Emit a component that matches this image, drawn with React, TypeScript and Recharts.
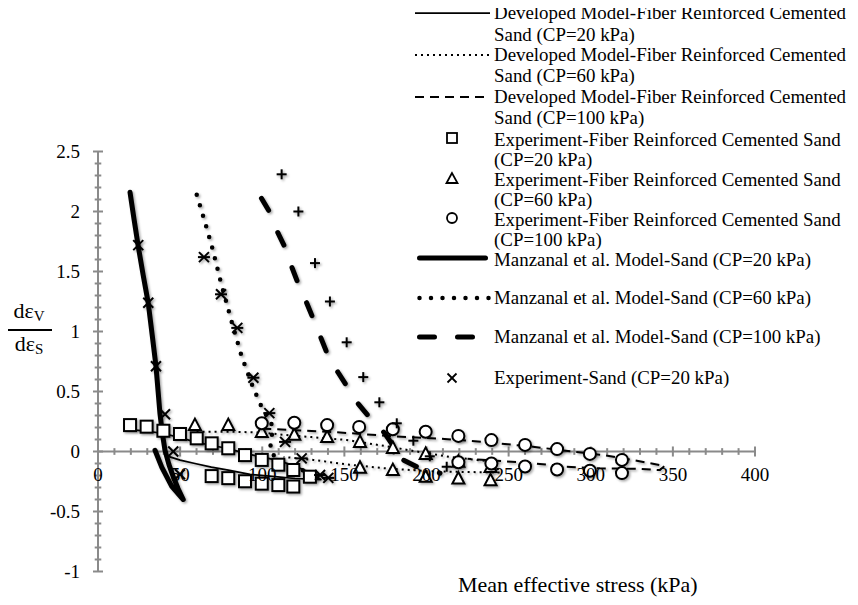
import React from 'react';
import { ComposedChart, Line, Scatter, XAxis, YAxis, ReferenceLine } from 'recharts';

type P = [number, number];

// ---------- data ----------
const devModel20: P[] = [
  [17.5, 0.185], [29.6, 0.17], [39.8, 0.15], [49.9, 0.115], [59, 0.08], [69.2, 0.05], [79.3, 0.025],
  [89.5, -0.015], [99.7, -0.045], [107.8, -0.07], [118, -0.11], [128, -0.17], [136, -0.235],
  [120, -0.225], [107.8, -0.21], [92.5, -0.19], [79.3, -0.155], [69, -0.13], [59, -0.1], [50, -0.072], [42.8, -0.04],
];
const devModel60: P[] = [
  [60, 0.165], [80, 0.165], [100, 0.158], [112.6, 0.14], [130, 0.12], [151.4, 0.096], [175, 0.045], [194, 0.0],
  [214, -0.045], [240, -0.085], [245, -0.175], [220, -0.17], [202, -0.165], [175, -0.14], [153, -0.11], [131, -0.07], [113, -0.045],
];
const devModel100: P[] = [
  [100, 0.19], [120, 0.178], [140, 0.165], [166.6, 0.14], [188, 0.12], [211, 0.105], [234.4, 0.08], [264.8, 0.04],
  [288.4, 0.0], [307.7, -0.03], [325, -0.07], [345, -0.12], [342, -0.155], [330, -0.145], [305.6, -0.14],
  [285, -0.127], [263, -0.095], [240, -0.075], [225, -0.06],
];
const expFRCS20: P[] = [
  [19.5, 0.22], [29.6, 0.207], [39.8, 0.173], [49.9, 0.146], [60.1, 0.11], [69.2, 0.068], [79.3, 0.027],
  [89.5, -0.03], [99.7, -0.07], [109.8, -0.11], [118.9, -0.154], [129, -0.21],
  [69.2, -0.205], [79.3, -0.222], [89.5, -0.248], [99.7, -0.268], [109.8, -0.28], [118.9, -0.292],
];
const expFRCS60: P[] = [
  [59, 0.22], [79.3, 0.22], [99.7, 0.162], [119.5, 0.14], [139.5, 0.12], [159.5, 0.08], [179.5, 0.03],
  [199.5, -0.02], [219.4, -0.085], [239, -0.13],
  [159.5, -0.135], [179.5, -0.155], [199.5, -0.21], [219.4, -0.225], [239, -0.24],
];
const expFRCS100: P[] = [
  [99.7, 0.235], [119.5, 0.24], [139.5, 0.22], [159, 0.205], [179.5, 0.185], [199.5, 0.165], [219.4, 0.13],
  [239.5, 0.095], [260, 0.055], [279.5, 0.02], [299.5, -0.02], [319, -0.07],
  [219.4, -0.09], [239.5, -0.1], [260, -0.125], [279.5, -0.15], [299.5, -0.16], [319, -0.18],
];
const manzanal20: P[] = [
  [19.5, 2.16], [22, 1.93], [24.5, 1.71], [27.5, 1.47], [30.6, 1.235], [33, 0.97], [35.3, 0.71], [36.6, 0.5],
  [37.7, 0.32], [39.2, 0.15], [40.8, 0.01], [43.2, -0.11], [45.8, -0.21], [48.8, -0.31], [51.9, -0.4],
  [44.9, -0.29], [38.8, -0.13], [34.7, 0.01],
];
const manzanal60: P[] = [
  [60.1, 2.14], [66.2, 1.86], [69.8, 1.685], [74.7, 1.415], [81.8, 1.06], [87.5, 0.79], [94.6, 0.527],
  [100, 0.36], [106.5, 0.207], [105.5, 0.1], [104.7, 0.01], [108, -0.05], [114, -0.09], [120, -0.13],
  [127, -0.17], [135, -0.22],
];
const manzanal100: P[] = [
  [99.5, 2.11], [104.7, 1.99], [109.6, 1.82], [113.9, 1.7], [117.9, 1.54], [121.8, 1.4], [127, 1.24],
  [130.9, 1.11], [136.2, 0.93], [140, 0.8], [146.1, 0.66], [152.2, 0.53], [158.3, 0.4], [165.6, 0.28],
  [174.7, 0.15], [179.6, 0.05], [178.8, -0.01], [185.7, -0.07], [196, -0.14], [208.2, -0.18],
];
const expSand20: P[] = [
  [24.5, 1.72], [30.6, 1.24], [35.3, 0.71], [40.8, 0.31], [45.8, 0.0], [49.9, -0.19],
];
const expSand60: P[] = [
  [64.5, 1.62], [74.9, 1.31], [84.8, 1.03], [94.6, 0.615], [104.3, 0.32], [113.9, 0.08], [124, -0.057],
  [135.2, -0.196], [140.2, -0.22],
];
const expSand100: P[] = [
  [111.8, 2.31], [122, 2.0], [132.1, 1.57], [141.2, 1.25], [151.4, 0.91], [161.5, 0.62], [171.3, 0.41],
  [181.9, 0.235], [192, 0.09], [202, -0.04], [212.3, -0.127],
];

const xTickLabels = [0, 50, 100, 150, 200, 250, 300, 350, 400];
const yTickLabels = [-1, -0.5, 0, 0.5, 1, 1.5, 2, 2.5];

const legendNames = [
  'Developed Model-Fiber Reinforced Cemented\nSand (CP=20 kPa)',
  'Developed Model-Fiber Reinforced Cemented\nSand (CP=60 kPa)',
  'Developed Model-Fiber Reinforced Cemented\nSand (CP=100 kPa)',
  'Experiment-Fiber Reinforced Cemented Sand\n(CP=20 kPa)',
  'Experiment-Fiber Reinforced Cemented Sand\n(CP=60 kPa)',
  'Experiment-Fiber Reinforced Cemented Sand\n(CP=100 kPa)',
  'Manzanal et al. Model-Sand (CP=20 kPa)',
  'Manzanal et al. Model-Sand (CP=60 kPa)',
  'Manzanal et al. Model-Sand (CP=100 kPa)',
  'Experiment-Sand (CP=20 kPa)',
];
const xAxisTitle = 'Mean effective stress (kPa)';

// ---------- styling ----------
const FONT = '"Liberation Serif", "Times New Roman", serif';
const GRAY = '#8a8a8a';
const SH = 'url(#shadow)';

const pts = (a: P[]) => a.map(([x, y]) => ({ x, y }));

const SquareShape = (p: any) => (
  <rect x={p.cx - 6} y={p.cy - 6} width={12} height={12} fill="#fff" stroke="#000" strokeWidth={2} filter={SH} />
);
const TriangleShape = (p: any) => (
  <polygon points={`${p.cx},${p.cy - 6.5} ${p.cx - 6},${p.cy + 5} ${p.cx + 6},${p.cy + 5}`} fill="#fff" stroke="#000" strokeWidth={2} filter={SH} />
);
const CircleShape = (p: any) => (
  <circle cx={p.cx} cy={p.cy} r={6} fill="#fff" stroke="#000" strokeWidth={2} filter={SH} />
);
const XShape = (p: any) => (
  <g stroke="#000" strokeWidth={2} filter={SH}>
    <line x1={p.cx - 5} y1={p.cy - 5} x2={p.cx + 5} y2={p.cy + 5} />
    <line x1={p.cx - 5} y1={p.cy + 5} x2={p.cx + 5} y2={p.cy - 5} />
  </g>
);
const PlusShape = (p: any) => (
  <g stroke="#000" strokeWidth={2} filter={SH}>
    <line x1={p.cx - 5} y1={p.cy} x2={p.cx + 5} y2={p.cy} />
    <line x1={p.cx} y1={p.cy - 5} x2={p.cx} y2={p.cy + 5} />
  </g>
);
const StarShape = (p: any) => (
  <g stroke="#000" strokeWidth={2} filter={SH}>
    <line x1={p.cx - 5} y1={p.cy - 5} x2={p.cx + 5} y2={p.cy + 5} />
    <line x1={p.cx - 5} y1={p.cy + 5} x2={p.cx + 5} y2={p.cy - 5} />
    <line x1={p.cx - 6} y1={p.cy} x2={p.cx + 6} y2={p.cy} />
  </g>
);

// axis tick sets (axis furniture, not data)
const xMinor: number[] = [];
for (let v = 10; v < 400; v += 10) if (v % 50 !== 0) xMinor.push(v);
const yMinor: number[] = [];
for (let i = -10; i <= 25; i++) if (i % 5 !== 0) yMinor.push(i / 10);

const X_MAJ = 0.042, X_MIN = 0.028; // half tick length in y units
const Y_MAJ = 3.05, Y_MIN = 2.0; // half tick length in x units

// legend layout (page-relative, chart wrapper offset 8px)
const legendLineCenters = [[13, 35], [55, 76], [97, 118], [140, 160], [180, 200], [220, 239.5], [260], [298], [337], [378]];

export default function App() {
  return (
    <div style={{ position: 'relative', width: 850, height: 597, fontFamily: FONT }}>
      <ComposedChart width={850} height={597} margin={{ top: 143.5, right: 103, bottom: 33.5, left: 30 }}>
        <defs>
          <filter id="shadow" x="-50%" y="-50%" width="200%" height="200%">
            <feDropShadow dx="1.5" dy="1.5" stdDeviation="1.2" floodColor="#000" floodOpacity="0.35" />
          </filter>
        </defs>
        <XAxis type="number" dataKey="x" domain={[0, 400]} hide allowDataOverflow />
        <YAxis
          type="number"
          dataKey="y"
          domain={[-1, 2.5]}
          ticks={yTickLabels}
          interval={0}
          axisLine={false}
          tickLine={false}
          width={60}
          tickSize={8}
          tickMargin={10}
          tick={{ fill: '#000', fontSize: 19, fontFamily: FONT }}
          allowDataOverflow
        />
        {/* axis lines */}
        <ReferenceLine segment={[{ x: 0, y: -1 }, { x: 0, y: 2.5 }]} stroke={GRAY} strokeWidth={2} ifOverflow="visible" />
        <ReferenceLine segment={[{ x: 0, y: 0 }, { x: 400, y: 0 }]} stroke={GRAY} strokeWidth={2} ifOverflow="visible" />
        {xMinor.map((v) => (
          <ReferenceLine key={'xm' + v} segment={[{ x: v, y: -X_MIN }, { x: v, y: X_MIN }]} stroke={GRAY} strokeWidth={2} ifOverflow="visible" />
        ))}
        {xTickLabels.map((v) => (
          <ReferenceLine
            key={'xM' + v}
            segment={[{ x: v, y: X_MAJ }, { x: v, y: -X_MAJ }]}
            stroke={GRAY}
            strokeWidth={2}
            ifOverflow="visible"
            label={{ value: String(v), position: 'bottom', offset: 11, fill: '#000', fontSize: 19, fontFamily: FONT }}
          />
        ))}
        {yMinor.map((v) => (
          <ReferenceLine key={'ym' + v} segment={[{ x: -Y_MIN, y: v }, { x: Y_MIN, y: v }]} stroke={GRAY} strokeWidth={2} ifOverflow="visible" />
        ))}
        {yTickLabels.map((v) => (
          <ReferenceLine key={'yM' + v} segment={[{ x: -Y_MAJ, y: v }, { x: Y_MAJ, y: v }]} stroke={GRAY} strokeWidth={2} ifOverflow="visible" />
        ))}

        {/* developed model lines */}
        <Line data={pts(devModel20)} dataKey="y" type="linear" stroke="#000" strokeWidth={1.75} dot={false} activeDot={false} isAnimationActive={false} filter={SH} />
        <Line data={pts(devModel60)} dataKey="y" type="linear" stroke="#000" strokeWidth={2} strokeDasharray="2 4" dot={false} activeDot={false} isAnimationActive={false} filter={SH} />
        <Line data={pts(devModel100)} dataKey="y" type="linear" stroke="#000" strokeWidth={2} strokeDasharray="9 6" dot={false} activeDot={false} isAnimationActive={false} filter={SH} />

        {/* experiments FRCS */}
        <Scatter data={pts(expFRCS20)} shape={SquareShape} isAnimationActive={false} />
        <Scatter data={pts(expFRCS60)} shape={TriangleShape} isAnimationActive={false} />
        <Scatter data={pts(expFRCS100)} shape={CircleShape} isAnimationActive={false} />

        {/* Manzanal model */}
        <Line data={pts(manzanal20)} dataKey="y" type="linear" stroke="#000" strokeWidth={5} strokeLinejoin="round" strokeLinecap="round" dot={false} activeDot={false} isAnimationActive={false} filter={SH} />
        <Line data={pts(manzanal60)} dataKey="y" type="linear" stroke="#000" strokeWidth={4.5} strokeLinecap="round" strokeDasharray="0 11" dot={false} activeDot={false} isAnimationActive={false} filter={SH} />
        <Line data={pts(manzanal100)} dataKey="y" type="linear" stroke="#000" strokeWidth={5} strokeLinecap="round" strokeDasharray="14 24" dot={false} activeDot={false} isAnimationActive={false} filter={SH} />

        {/* sand experiments */}
        <Scatter data={pts(expSand20)} shape={XShape} isAnimationActive={false} />
        <Scatter data={pts(expSand60)} shape={StarShape} isAnimationActive={false} />
        <Scatter data={pts(expSand100)} shape={PlusShape} isAnimationActive={false} />
      </ComposedChart>

      {/* legend */}
      <svg width={110} height={400} style={{ position: 'absolute', left: 392, top: -8 }} viewBox="400 0 110 400">
        <line x1={415} y1={13} x2={490} y2={13} stroke="#000" strokeWidth={1.75} />
        <line x1={415} y1={55} x2={490} y2={55} stroke="#000" strokeWidth={2} strokeDasharray="2 4" />
        <line x1={415} y1={97} x2={490} y2={97} stroke="#000" strokeWidth={2} strokeDasharray="9 6" />
        <rect x={447} y={133} width={10} height={10} fill="#fff" stroke="#000" strokeWidth={1.8} />
        <polygon points="452,173 446.5,183 457.5,183" fill="#fff" stroke="#000" strokeWidth={1.8} />
        <circle cx={452} cy={218} r={5} fill="#fff" stroke="#000" strokeWidth={1.8} />
        <line x1={419.5} y1={258} x2={485.5} y2={258} stroke="#000" strokeWidth={5} strokeLinecap="round" />
        <line x1={419.5} y1={298} x2={489} y2={298} stroke="#000" strokeWidth={4.5} strokeLinecap="round" strokeDasharray="0 11.5" />
        <line x1={419.5} y1={337} x2={473} y2={337} stroke="#000" strokeWidth={5} strokeLinecap="round" strokeDasharray="15 23" />
        <g stroke="#000" strokeWidth={1.8}>
          <line x1={447.5} y1={373.5} x2={456.5} y2={382.5} />
          <line x1={447.5} y1={382.5} x2={456.5} y2={373.5} />
        </g>
      </svg>
      {legendNames.map((name, i) =>
        name.split('\n').map((line, j) => (
          <div
            key={i + '-' + j}
            style={{
              position: 'absolute',
              left: 486,
              top: legendLineCenters[i][j] - 8 - 8,
              height: 16,
              lineHeight: '16px',
              fontSize: 18.9,
              whiteSpace: 'nowrap',
              color: '#000',
            }}
          >
            {line}
          </div>
        ))
      )}

      {/* y axis title */}
      <div style={{ position: 'absolute', left: -2, top: 290, width: 46, textAlign: 'center', fontSize: 22, color: '#000' }}>
        <div style={{ lineHeight: '26px', borderBottom: '2px solid #000' }}>
          dε<span style={{ fontSize: 15, verticalAlign: '-3px' }}>V</span>
        </div>
        <div style={{ lineHeight: '26px' }}>
          dε<span style={{ fontSize: 15, verticalAlign: '-3px' }}>S</span>
        </div>
      </div>

      {/* x axis title */}
      <div style={{ position: 'absolute', left: 450, top: 563, fontSize: 22, lineHeight: '28px', whiteSpace: 'nowrap', color: '#000' }}>
        {xAxisTitle}
      </div>
    </div>
  );
}
